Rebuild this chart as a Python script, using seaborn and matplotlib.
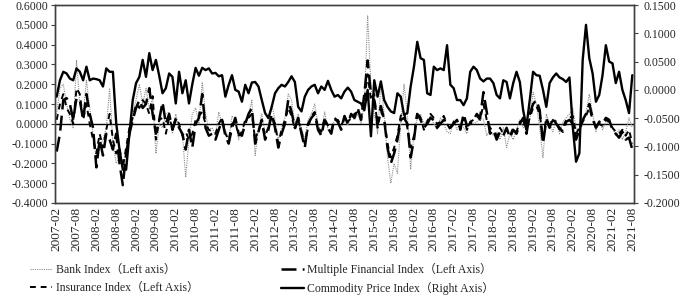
import matplotlib
matplotlib.use("Agg")
import matplotlib.pyplot as plt
from matplotlib.ticker import FuncFormatter, MultipleLocator
import pandas as pd
import seaborn as sns

months = pd.date_range("2007-02-01", "2021-08-01", freq="MS").strftime("%Y-%m").tolist()

# left axis series (one row per year, 2007 starts in Feb, 2021 ends in Aug)
bank = [
    0.05, 0.18, 0.20, 0.10, 0.02, -0.02, 0.32, 0.10, 0.05, 0.22, 0.08,
    -0.05, -0.18, -0.12, -0.08, -0.02, 0.18, -0.10, -0.20, -0.17, -0.22, -0.18, -0.05,
    0.05, 0.12, 0.20, 0.10, 0.18, 0.08, 0.13, -0.15, 0.00, -0.02, 0.05, 0.06,
    -0.05, 0.05, -0.02, -0.05, -0.27, -0.08, 0.05, 0.08, 0.00, 0.21, 0.05, -0.03,
    -0.02, -0.06, 0.06, 0.00, -0.03, -0.08, 0.04, 0.02, -0.08, -0.05, 0.02, 0.04,
    0.12, -0.16, -0.02, 0.05, -0.05, 0.00, 0.10, 0.02, -0.08, -0.02, 0.03, 0.15,
    0.12, 0.00, 0.05, -0.02, -0.08, 0.02, 0.05, 0.10, 0.00, -0.05, 0.06, -0.03,
    -0.04, 0.02, 0.00, -0.02, 0.03, -0.01, 0.04, 0.02, 0.05, 0.00, 0.10, 0.545,
    0.19, 0.05, -0.05, 0.20, 0.05, -0.17, -0.30, -0.20, -0.25, 0.00, 0.20, 0.05,
    -0.23, -0.05, 0.03, 0.05, 0.00, 0.02, 0.04, 0.00, -0.03, 0.03, 0.00, -0.04,
    -0.05, 0.02, -0.03, 0.00, -0.02, -0.05, 0.02, 0.00, 0.01, 0.03, 0.02, -0.06,
    -0.03, -0.06, -0.04, -0.08, -0.02, -0.12, -0.05, -0.08, -0.03, 0.02, -0.02, 0.00,
    0.02, 0.16, 0.10, -0.02, -0.17, 0.05, 0.00, -0.04, 0.02, -0.05, 0.01, 0.03,
    0.05, 0.08, -0.02, -0.05, 0.00, 0.06, 0.15, 0.05, -0.04, 0.02, -0.03, 0.01,
    0.00, -0.02, -0.06, -0.03, -0.08, -0.04, 0.03, -0.02,
]

multiple = [
    -0.14, -0.05, 0.12, 0.13, 0.10, 0.02, 0.13, 0.12, 0.02, 0.15, 0.05,
    -0.02, -0.22, -0.08, -0.16, -0.05, -0.08, -0.13, -0.05, -0.20, -0.31, -0.15, -0.05,
    0.02, 0.08, 0.12, 0.08, 0.10, 0.18, 0.05, -0.05, 0.02, 0.11, 0.00, 0.05,
    -0.03, 0.02, -0.02, -0.05, -0.13, -0.03, -0.12, 0.00, 0.03, 0.15, -0.02, -0.06,
    -0.05, -0.08, -0.03, 0.02, -0.06, -0.10, -0.02, 0.03, -0.05, -0.06, 0.00, 0.05,
    0.08, -0.10, -0.04, 0.02, -0.08, -0.03, 0.05, -0.02, -0.12, -0.05, 0.00, 0.12,
    0.06, -0.02, 0.03, -0.05, -0.12, 0.00, 0.03, 0.05, -0.03, -0.06, 0.02, -0.02,
    -0.05, 0.03, 0.01, -0.03, 0.04, 0.00, 0.05, 0.03, 0.08, 0.02, 0.15, 0.32,
    0.15, 0.12, 0.00, 0.09, 0.02, -0.12, -0.20, -0.15, -0.08, 0.02, 0.03, 0.00,
    -0.17, -0.08, 0.05, 0.02, -0.02, 0.00, 0.03, 0.02, -0.02, 0.00, 0.02, 0.01,
    -0.02, 0.00, 0.02, -0.03, 0.05, -0.01, 0.00, 0.02, 0.05, 0.03, 0.16, 0.06,
    -0.05, -0.03, -0.08, -0.04, -0.06, -0.02, -0.07, -0.03, -0.05, 0.00, 0.03, -0.05,
    0.05, 0.10, 0.12, 0.07, -0.10, 0.02, -0.02, 0.03, 0.00, -0.02, -0.04, 0.01,
    0.02, 0.00, -0.08, -0.03, 0.02, 0.05, 0.10, 0.03, -0.02, 0.01, 0.00, 0.03,
    0.02, -0.03, -0.05, -0.07, -0.04, -0.08, -0.07, -0.13,
]

insurance = [
    0.02, 0.10, 0.15, 0.08, 0.05, 0.00, 0.18, 0.15, 0.02, 0.10, 0.00,
    -0.08, -0.15, -0.05, -0.12, -0.03, 0.05, -0.08, -0.15, -0.12, -0.22, -0.12, -0.02,
    0.03, 0.10, 0.08, 0.12, 0.10, 0.05, 0.14, -0.08, 0.02, 0.03, -0.05, 0.03,
    -0.02, 0.03, 0.00, -0.06, -0.04, -0.08, -0.05, 0.02, 0.04, 0.06, 0.00, -0.03,
    -0.04, -0.05, 0.00, 0.03, -0.05, -0.08, 0.00, 0.01, -0.06, -0.04, 0.02, 0.03,
    0.05, -0.08, -0.03, 0.00, -0.06, -0.02, 0.04, 0.00, -0.10, -0.03, 0.02, 0.08,
    0.04, -0.03, 0.02, -0.04, -0.10, -0.02, 0.04, 0.06, -0.02, -0.04, 0.03, -0.01,
    -0.03, 0.02, 0.02, -0.01, 0.03, 0.01, 0.03, 0.05, 0.06, 0.03, 0.12, 0.25,
    0.12, 0.15, -0.02, 0.06, 0.03, -0.10, -0.17, -0.12, -0.06, 0.04, 0.06, -0.02,
    -0.12, -0.06, 0.06, 0.03, -0.03, 0.01, 0.05, 0.03, 0.00, 0.01, 0.04, 0.00,
    -0.03, 0.01, 0.00, -0.02, 0.03, -0.03, 0.01, 0.02, 0.04, 0.02, 0.10, 0.02,
    -0.02, -0.04, -0.06, -0.02, -0.05, -0.03, -0.06, -0.02, -0.04, 0.01, 0.02, -0.03,
    0.03, 0.08, 0.09, 0.05, -0.07, 0.03, -0.01, 0.02, 0.00, -0.03, -0.02, 0.02,
    0.03, 0.04, -0.05, -0.02, 0.01, 0.04, 0.08, 0.02, -0.02, 0.00, -0.01, 0.02,
    0.01, -0.02, -0.04, -0.05, -0.03, -0.06, -0.03, -0.10,
]

# right axis series
commodity = [
    -0.012, 0.017, 0.032, 0.029, 0.020, 0.017, 0.038, 0.032, 0.017, 0.041, 0.017,
    0.020, 0.019, 0.017, 0.006, 0.038, 0.032, 0.032, -0.059, -0.106, -0.141, -0.141, -0.077,
    -0.018, 0.012, 0.023, 0.053, 0.023, 0.065, 0.035, 0.053, 0.025, -0.006, 0.003, 0.029,
    0.023, -0.024, 0.032, -0.006, 0.017, -0.024, 0.010, 0.039, 0.025, 0.039, 0.035, 0.038,
    0.029, 0.030, 0.024, 0.026, -0.012, 0.009, 0.026, 0.000, -0.003, -0.021, 0.009, -0.006,
    0.013, 0.014, 0.006, -0.018, -0.041, -0.050, -0.030, -0.006, 0.003, 0.009, 0.006, 0.014,
    0.024, 0.014, -0.030, -0.038, -0.012, 0.000, 0.006, 0.009, -0.006, 0.006, 0.000, 0.016,
    0.000, -0.012, -0.009, -0.015, -0.003, 0.004, -0.003, -0.018, -0.021, -0.024, -0.036, 0.000,
    -0.082, 0.017, -0.012, 0.015, -0.018, -0.030, -0.038, -0.041, -0.006, -0.012, -0.044, -0.041,
    0.006, 0.041, 0.085, 0.056, 0.053, -0.006, -0.009, 0.041, 0.035, 0.038, 0.035, 0.079,
    0.009, 0.003, -0.018, -0.018, -0.027, -0.015, 0.032, 0.041, 0.035, 0.020, 0.015, 0.020,
    0.020, 0.012, -0.009, -0.015, 0.017, 0.014, -0.015, 0.012, 0.032, 0.014, -0.036, -0.065,
    -0.018, 0.032, 0.026, 0.025, 0.000, -0.030, 0.012, 0.022, 0.029, 0.022, 0.019, 0.014,
    0.022, -0.065, -0.127, -0.112, 0.053, 0.115, 0.056, 0.029, -0.021, -0.009, 0.026, 0.079,
    0.050, 0.047, 0.012, 0.032, 0.000, -0.018, -0.041, 0.026,
]

df = pd.DataFrame({
    "t": range(len(months)),
    "bank": bank,
    "multiple": multiple,
    "insurance": insurance,
    "commodity": commodity,
})

sns.set_style("ticks")
plt.rcParams["font.family"] = ["Liberation Serif", "Noto Sans CJK SC"]

fig, ax = plt.subplots(figsize=(6.85, 2.97), dpi=100)
fig.subplots_adjust(left=0.0803, right=0.9255, top=0.983, bottom=0.3165)
ax2 = ax.twinx()

sns.lineplot(data=df, x="t", y="bank", ax=ax, color="#8c8c8c", linewidth=0.8,
             linestyle=(0, (1, 1)), label="Bank Index（Left axis）", legend=False)
sns.lineplot(data=df, x="t", y="insurance", ax=ax, color="black", linewidth=1.4,
             linestyle=(0, (3, 2.5)), label="Insurance Index（Left Axis）", legend=False)
sns.lineplot(data=df, x="t", y="multiple", ax=ax, color="black", linewidth=1.8,
             linestyle=(0, (6, 2.5)), label="Multiple Financial Index（Left Axis）", legend=False)
sns.lineplot(data=df, x="t", y="commodity", ax=ax2, color="black", linewidth=1.7,
             label="Commodity Price Index（Right Axis）", legend=False)
ax.axhline(0, color="black", linewidth=1.0, zorder=1)

fmt = FuncFormatter(lambda v, p: "%.4f" % (0.0 if abs(v) < 1e-9 else v))
ax.set_xlim(-0.5, len(months) - 0.5)
ax.set_ylim(-0.4, 0.6)
ax.yaxis.set_major_locator(MultipleLocator(0.1))
ax.yaxis.set_major_formatter(fmt)
ax2.set_ylim(-0.2, 0.15)
ax2.yaxis.set_major_locator(MultipleLocator(0.05))
ax2.yaxis.set_major_formatter(fmt)

ax.set_xticks(range(0, len(months), 6))
ax.set_xticklabels(months[::6], rotation=90)
ax.set_xlabel("")
ax.set_ylabel("")
ax2.set_ylabel("")

ax.tick_params(axis="x", length=0, pad=3, labelsize=9.5)
ax.tick_params(axis="y", length=3, pad=2, labelsize=8.5, color="#404040")
ax2.tick_params(axis="y", length=3, pad=4, labelsize=8.5, color="#404040")
for a in (ax, ax2):
    for s in a.spines.values():
        s.set_color("#404040")
        s.set_linewidth(1.0)

h1, l1 = ax.get_legend_handles_labels()
h2, l2 = ax2.get_legend_handles_labels()
fig.legend(h1 + h2, l1 + l2, ncol=2, loc="upper left",
           bbox_to_anchor=(25 / 685, 1 - 258 / 297), frameon=False,
           fontsize=8.5, handlelength=1.9, handletextpad=0.3,
           columnspacing=7, labelspacing=0.55, borderaxespad=0)

fig.savefig("out.png", dpi=100)
